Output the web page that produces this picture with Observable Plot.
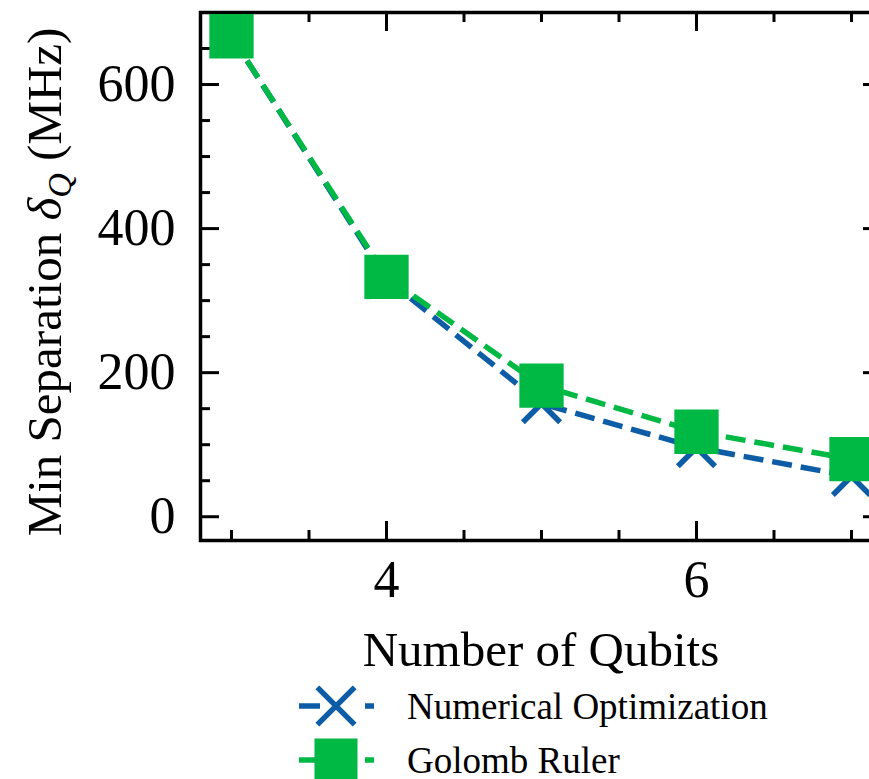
<!DOCTYPE html>
<html>
<head>
<meta charset="utf-8">
<script src="https://cdn.jsdelivr.net/npm/d3@7"></script>
<script src="https://cdn.jsdelivr.net/npm/@observablehq/plot@0.6"></script>
<style>
  html, body { margin: 0; padding: 0; background: #fff; overflow: hidden; width: 869px; height: 779px; }
  #chart { width: 869px; overflow: hidden; }
  .legend { font-family: "Liberation Serif", "Times New Roman", serif; font-size: 37px; color: #000; }
  .legend .row { display: flex; align-items: center; height: 54px; padding-left: 299px; }
  .legend .row span { margin-left: 28px; }
</style>
</head>
<body>
<div id="chart"></div>
<div class="legend" id="legend"></div>
<script>
// Minimum qubit frequency separation versus number of qubits
const qubits = [3, 4, 5, 6, 7];
const numericalOpt = [667, 330, 157, 96, 56];
const golombRuler = [667, 333, 182, 118, 80];

const xMajor = [4, 6];
const xMinor = [3, 3.5, 4.5, 5, 5.5, 6.5, 7];
const yMajor = [0, 200, 400, 600];
const yMinor = [50, 100, 150, 250, 300, 350, 450, 500, 550, 650];

const seriesNames = ["Numerical Optimization", "Golomb Ruler"];
const seriesColors = ["#0C5DA5", "#00B945"];
const seriesSymbols = ["times", "square"];
const seriesValues = [numericalOpt, golombRuler];

const rows = seriesNames.map((name, i) =>
  qubits.map((q, j) => ({series: name, qubits: q, sep: seriesValues[i][j]}))
);

const W = 900, H = 679;
const mL = 200, mR = 18, mT = 12, mB = 139;
const innerW = W - mL - mR, innerH = H - mT - mB;
const majorLen = 19, minorLen = 10;
const lineW = 5.5, dash = "20,9";
const squareR = 25, timesR = 17;

const tickStyle = {stroke: "black", strokeWidth: 3};

const marks = [
  // inward-pointing ticks on all four sides
  Plot.tickX(xMajor, {x: d => d, insetTop: innerH - majorLen, ...tickStyle}),
  Plot.tickX(xMinor, {x: d => d, insetTop: innerH - minorLen, ...tickStyle}),
  Plot.tickX(xMajor, {x: d => d, insetBottom: innerH - majorLen, ...tickStyle}),
  Plot.tickX(xMinor, {x: d => d, insetBottom: innerH - minorLen, ...tickStyle}),
  Plot.tickY(yMajor, {y: d => d, insetRight: innerW - majorLen, ...tickStyle}),
  Plot.tickY(yMinor, {y: d => d, insetRight: innerW - minorLen, ...tickStyle}),
  Plot.tickY(yMajor, {y: d => d, insetLeft: innerW - majorLen, ...tickStyle}),
  Plot.tickY(yMinor, {y: d => d, insetLeft: innerW - minorLen, ...tickStyle}),
  Plot.frame({stroke: "black", strokeWidth: 3.5}),
  Plot.axisX({ticks: xMajor, tickSize: 0, tickPadding: 20, fontSize: 52, label: null, tickFormat: d => String(d)}),
  Plot.axisY({ticks: yMajor, tickSize: 0, tickPadding: 25, fontSize: 52, label: null, tickFormat: d => String(d)})
];

rows.forEach((data, i) => {
  marks.push(Plot.line(data, {
    x: "qubits", y: "sep", stroke: seriesColors[i], strokeWidth: lineW,
    strokeDasharray: dash, strokeLinecap: "butt", strokeLinejoin: "miter"
  }));
  if (seriesSymbols[i] === "square") {
    marks.push(Plot.dot(data, {x: "qubits", y: "sep", symbol: "square", r: squareR, fill: seriesColors[i], stroke: null}));
  } else {
    marks.push(Plot.dot(data, {x: "qubits", y: "sep", symbol: "times", r: timesR, stroke: seriesColors[i], strokeWidth: lineW, strokeLinecap: "butt"}));
  }
});

const chart = Plot.plot({
  width: W, height: H,
  marginLeft: mL, marginRight: mR, marginTop: mT, marginBottom: mB,
  style: "max-width:none;font-family:'Liberation Serif','Times New Roman',serif;color:black;background:white;",
  x: {domain: [2.8, 7.2], label: null},
  y: {domain: [-33, 700], label: null},
  marks
});

const svg = d3.select(chart);

// y-axis title with subscripted delta
const yTitle = svg.append("text")
  .attr("transform", `translate(61,${mT + innerH / 2 + 6}) rotate(-90)`)
  .attr("text-anchor", "middle")
  .attr("font-size", 49)
  .attr("fill", "black");
yTitle.append("tspan").text("Min Separation ");
yTitle.append("tspan").attr("font-style", "italic").text("δ");
yTitle.append("tspan").attr("font-style", "italic").attr("font-size", 34).attr("dy", 10).text("Q");
yTitle.append("tspan").attr("dy", -10).text(" (MHz)");

// x-axis title
svg.append("text")
  .attr("x", mL + innerW / 2)
  .attr("y", 666)
  .attr("text-anchor", "middle")
  .attr("font-size", 49)
  .attr("fill", "black")
  .text("Number of Qubits");

document.getElementById("chart").appendChild(chart);

// legend below the chart
const legend = d3.select("#legend");
seriesNames.forEach((name, i) => {
  const row = legend.append("div").attr("class", "row");
  const sw = row.append("svg").attr("width", 80).attr("height", 54).style("overflow", "visible");
  sw.append("line")
    .attr("x1", 0).attr("x2", 75).attr("y1", 27).attr("y2", 27)
    .attr("stroke", seriesColors[i]).attr("stroke-width", lineW)
    .attr("stroke-dasharray", "21,45");
  const sym = seriesSymbols[i] === "square" ? d3.symbolSquare : d3.symbolTimes;
  const r = seriesSymbols[i] === "square" ? squareR * 0.97 : timesR;
  const p = sw.append("path")
    .attr("transform", "translate(37,27)")
    .attr("d", d3.symbol(sym, Math.PI * r * r)());
  if (seriesSymbols[i] === "square") p.attr("fill", seriesColors[i]);
  else p.attr("fill", "none").attr("stroke", seriesColors[i]).attr("stroke-width", lineW);
  row.append("span").text(name);
});
</script>
</body>
</html>
